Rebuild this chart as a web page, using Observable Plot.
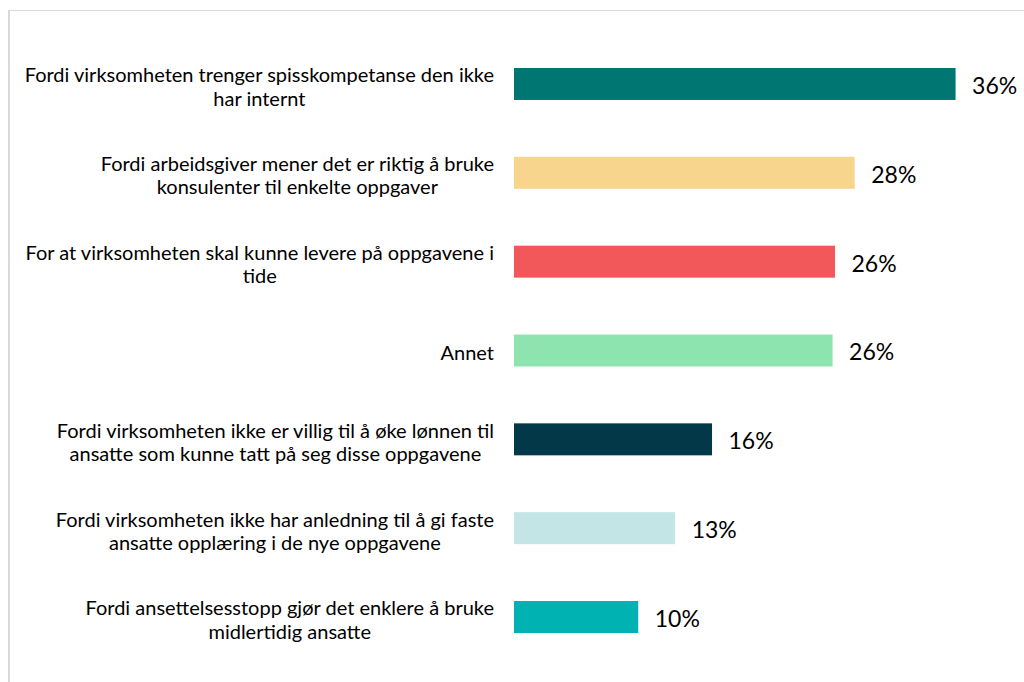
<!DOCTYPE html>
<html>
<head>
<meta charset="utf-8">
<script src="https://cdn.jsdelivr.net/npm/d3@7"></script>
<script src="https://cdn.jsdelivr.net/npm/@observablehq/plot@0.6"></script>
<style>
  html, body { margin: 0; padding: 0; background: #fff; overflow: hidden; }
  #wrap { position: relative; width: 1024px; height: 682px; }
  #border { position: absolute; left: 8px; top: 10px; right: -20px; bottom: -20px;
            border-left: 2px solid #d9d9d9; border-top: 1px solid #d9d9d9; pointer-events: none; }
  #chart { position: absolute; left: 0; top: 0; }
</style>
</head>
<body>
<div id="wrap"><div id="border"></div><div id="chart"></div></div>
<script>
const categories = [
  "Fordi virksomheten trenger spisskompetanse den ikke\nhar internt",
  "Fordi arbeidsgiver mener det er riktig å bruke\nkonsulenter til enkelte oppgaver",
  "For at virksomheten skal kunne levere på oppgavene i\ntide",
  "Annet",
  "Fordi virksomheten ikke er villig til å øke lønnen til\nansatte som kunne tatt på seg disse oppgavene",
  "Fordi virksomheten ikke har anledning til å gi faste\nansatte opplæring i de nye oppgavene",
  "Fordi ansettelsesstopp gjør det enklere å bruke\nmidlertidig ansatte"
];
const values = [35.9, 27.7, 26.1, 25.9, 16.1, 13.1, 10.1];
const valueLabels = ["36%", "28%", "26%", "26%", "16%", "13%", "10%"];
const colors = ["#007672", "#F7D58D", "#F2585A", "#8EE4AE", "#023847", "#C4E5E6", "#00B2B1"];

const data = categories.map((c, i) => ({category: c, value: values[i], label: valueLabels[i]}));

const chart = Plot.plot({
  width: 1024,
  height: 682,
  marginLeft: 514,
  marginRight: 18,
  marginTop: 68,
  marginBottom: 49,
  style: {fontFamily: "Lato, 'Open Sans', sans-serif", background: "transparent", color: "#000"},
  x: {domain: [0, 40], axis: null},
  y: {domain: categories, paddingInner: 0.64, paddingOuter: 0, round: false, axis: null},
  color: {domain: categories, range: colors},
  marks: [
    Plot.barX(data, {x: "value", y: "category", fill: "category"}),
    Plot.text(data, {x: "value", y: "category", text: "label", textAnchor: "start", dx: 16, dy: 2, fontSize: 23, fill: "#000"}),
    Plot.text(data, {x: 0, y: "category", text: "category", textAnchor: "middle", lineHeight: 1.16, dy: 2, fontSize: 20, fill: "#000"})
  ]
});
document.getElementById("chart").appendChild(chart);

// right-align each centered label block just left of the bars
const x0 = chart.scale("x").apply(0);
const rightEdge = x0 - 20;
const svgRect = chart.getBoundingClientRect();
const flat = new Set(categories.map(c => c.replace(/\n/g, "")));
chart.querySelectorAll("text").forEach(el => {
  if (!flat.has(el.textContent)) return;
  const r = el.getBoundingClientRect();
  const shift = rightEdge - (r.right - svgRect.left);
  const t = el.getAttribute("transform") || "";
  el.setAttribute("transform", `translate(${shift},0) ${t}`);
});
</script>
</body>
</html>
